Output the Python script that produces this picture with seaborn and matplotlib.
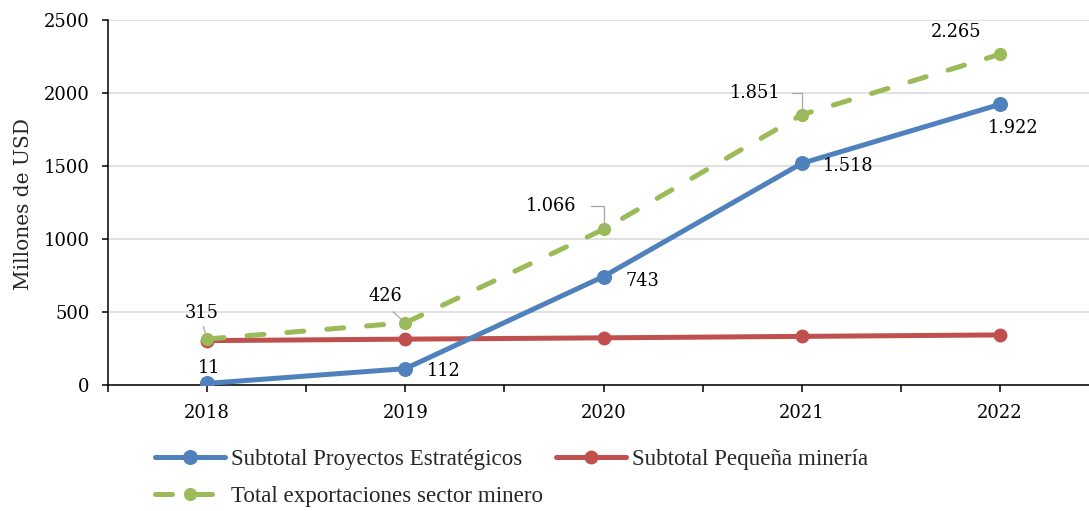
import numpy as np
import pandas as pd
import matplotlib
matplotlib.use("Agg")
import matplotlib.pyplot as plt
import matplotlib.colors as mcolors
import seaborn as sns

# ---- data -------------------------------------------------------------
years = ["2018", "2019", "2020", "2021", "2022"]
estrategicos = [11, 112, 743, 1518, 1922]
pequena = [304, 314, 323, 333, 343]
total = [315, 426, 1066, 1851, 2265]

series = ["Subtotal Proyectos Estratégicos",
          "Subtotal Pequeña minería",
          "Total exportaciones sector minero"]
colors = ["#4F81BD", "#C0504D", "#9BBB59"]

df = pd.DataFrame({
    "pos": np.tile(np.arange(len(years)), 3),
    "valor": estrategicos + pequena + total,
    "serie": np.repeat(series, len(years)),
})

# ---- style ------------------------------------------------------------
sns.set_theme(style="white")
plt.rcParams["font.family"] = ["DejaVu Serif"]

W, H = 1089, 511
fig = plt.figure(figsize=(W / 100, H / 100), dpi=100)
ax = fig.add_axes([108 / W, 1 - 385 / H, 991 / W, 365 / H])

sns.lineplot(data=df, x="pos", y="valor", hue="serie", hue_order=series,
             palette=colors, style="serie", style_order=series,
             markers={s: "o" for s in series},
             dashes={series[0]: "", series[1]: "", series[2]: (3.4, 4.6)},
             linewidth=3.6, markersize=10.5, markeredgewidth=0,
             errorbar=None, legend=False, sort=False, ax=ax)

zorders = {mcolors.to_hex(colors[0]).lower(): 5,
           mcolors.to_hex(colors[1]).lower(): 3,
           mcolors.to_hex(colors[2]).lower(): 4}
msizes = {mcolors.to_hex(colors[0]).lower(): 10.8,
          mcolors.to_hex(colors[1]).lower(): 10.0,
          mcolors.to_hex(colors[2]).lower(): 9.5}
handles = {}
for ln in ax.lines:
    c = mcolors.to_hex(ln.get_color()).lower()
    if c in zorders:
        ln.set_zorder(zorders[c])
        ln.set_markersize(msizes[c])
        ln.set_dash_capstyle("round")
        ln.set_solid_capstyle("round")
        handles[c] = ln

# ---- axes -------------------------------------------------------------
ax.set_xlim(-0.5, len(years) - 0.5)
ax.set_ylim(0, 2500)
ax.set_yticks(np.arange(0, 2501, 500))
ax.set_xticks(np.arange(len(years)))
ax.set_xticklabels(years)
ax.set_xticks(np.arange(-0.5, len(years), 1.0), minor=True)
ax.set_xlabel("")
ax.set_ylabel("Millones de USD", fontsize=14.5, va="center")
ax.yaxis.set_label_coords((24 - 108) / 991, (385 - 204) / 365)

ax.grid(axis="y", color="#D9D9D9", linewidth=1.1)
ax.grid(axis="x", visible=False)
ax.set_axisbelow(True)
for side in ["top", "right"]:
    ax.spines[side].set_visible(False)
for side in ["left", "bottom"]:
    ax.spines[side].set_color("black")
    ax.spines[side].set_linewidth(1.1)

ax.tick_params(axis="x", which="both", direction="out", length=5, width=1.1,
               color="black", bottom=True, pad=9, labelsize=13, labelcolor="black")
ax.tick_params(axis="y", which="major", direction="out", length=4.3, width=1.1,
               color="black", left=True, pad=9, labelsize=13, labelcolor="black")


def fmt(v):
    return f"{v:,}".replace(",", ".")


# ---- data labels ------------------------------------------------------
lbl_kw = dict(textcoords="offset pixels", ha="center", va="center",
              fontsize=12.8, color="black", zorder=6)

off_estr = [(2, 15), (38, -2), (39, -4), (46, -3), (13, -24)]
for i, (v, o) in enumerate(zip(estrategicos, off_estr)):
    ax.annotate(fmt(v), xy=(i, v), xytext=o, **lbl_kw)

leader = dict(arrowstyle="-", color="#A6A6A6", linewidth=0.9)
off_total = [(-5, 26), (-20, 27), (-52, 23), (-47, 22), (-44, 22)]
arrows = [
    dict(leader, relpos=(0.5, 0.0), shrinkA=1, shrinkB=1),
    dict(leader, relpos=(0.5, 0.0), shrinkA=4, shrinkB=0),
    dict(leader, relpos=(1.0, 0.5), shrinkA=8, shrinkB=0,
         connectionstyle="angle,angleA=0,angleB=90,rad=0"),
    dict(leader, relpos=(1.0, 0.5), shrinkA=6, shrinkB=1,
         connectionstyle="angle,angleA=0,angleB=90,rad=0"),
    None,
]
for i, (v, o, a) in enumerate(zip(total, off_total, arrows)):
    kw = dict(lbl_kw)
    if a is not None:
        kw["arrowprops"] = a
    ax.annotate(fmt(v), xy=(i, v), xytext=o, **kw)

# ---- legend -----------------------------------------------------------
order = [colors[0], colors[2], colors[1]]
leg_handles = [handles[mcolors.to_hex(c).lower()] for c in order]
leg_labels = [series[0], series[2], series[1]]
fig.legend(leg_handles, leg_labels, loc="upper left",
           bbox_to_anchor=(155 / W, 1 - 449 / H), ncol=2, frameon=False,
           borderaxespad=0, borderpad=0, handlelength=3.05, handletextpad=0.26,
           columnspacing=0.55, labelspacing=0.7,
           prop={"family": "Liberation Serif", "size": 16.6})

fig.savefig("out.png", dpi=100)
